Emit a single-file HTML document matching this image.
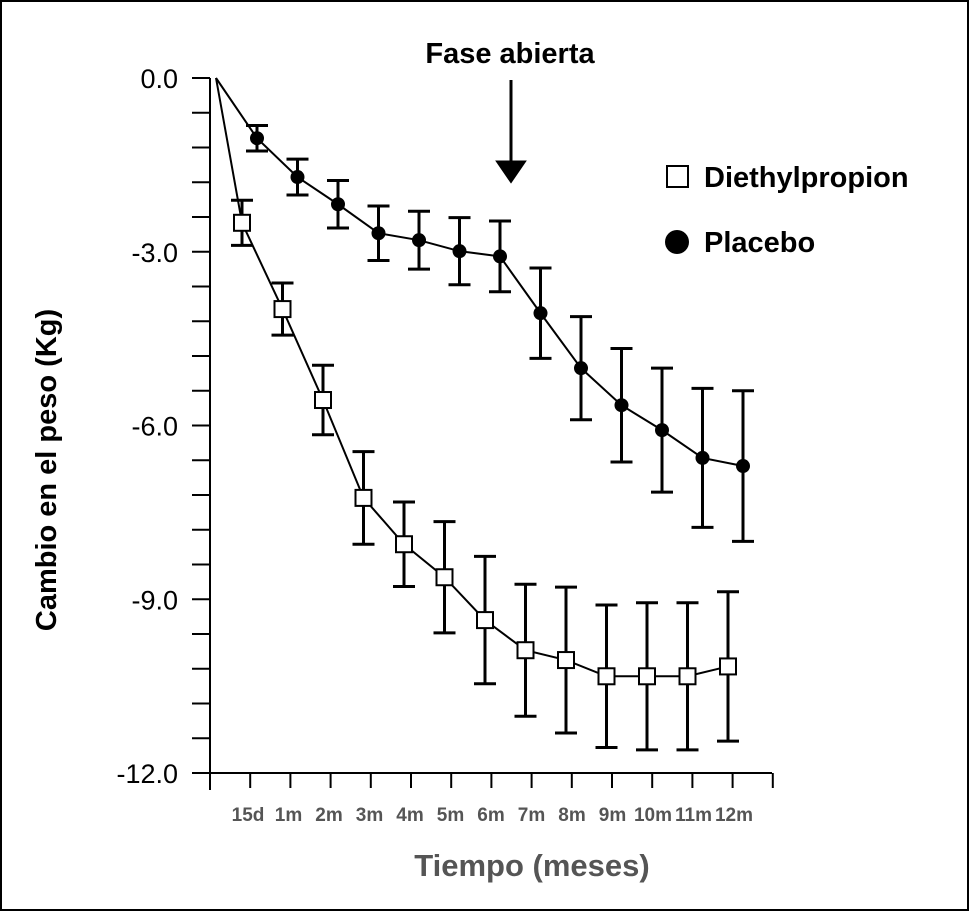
<!DOCTYPE html>
<html><head><meta charset="utf-8"><style>
html,body{margin:0;padding:0;background:#fff}
svg{display:block}
text{font-family:"Liberation Sans Narrow","Liberation Sans",sans-serif}
</style></head><body>
<svg id="c" width="969" height="911" viewBox="0 0 969 911">
<rect x="1" y="1" width="967" height="909" fill="#fff" stroke="#000" stroke-width="2"/>
<g id="g"></g>
</svg>
<script>
const categories=["15d","1m","2m","3m","4m","5m","6m","7m","8m","9m","10m","11m","12m"];
const placebo=[-1.04,-1.71,-2.18,-2.68,-2.8,-2.99,-3.08,-4.06,-5.01,-5.65,-6.08,-6.56,-6.7];
const placeboErr=[0.22,0.31,0.41,0.47,0.5,0.58,0.61,0.78,0.89,0.98,1.07,1.2,1.3];
const diethyl=[-2.5,-3.99,-5.56,-7.25,-8.05,-8.62,-9.36,-9.88,-10.05,-10.33,-10.33,-10.33,-10.16];
const diethylErr=[0.39,0.45,0.6,0.8,0.73,0.96,1.1,1.14,1.26,1.23,1.27,1.27,1.29];
const yTickLabels=["0.0","-3.0","-6.0","-9.0","-12.0"];
const yTickValues=[0,-3,-6,-9,-12];

const NS="http://www.w3.org/2000/svg";
const g=document.getElementById('g');
const y=v=>78+(v/-12)*695;
const x=i=>250+40.5*i;
function mk(t,a,p){const e=document.createElementNS(NS,t);for(const k in a)e.setAttribute(k,a[k]);(p||g).appendChild(e);return e;}

// axes
let e=mk('line',{x1:210,y1:78,x2:210,y2:790,stroke:'#000','stroke-width':2});


e=mk('line',{x1:210,y1:773,x2:772,y2:773,stroke:'#000','stroke-width':2});


for(let k=0;k<=20;k++){
  const v=-0.6*k;
  e=mk('line',{x1:192,y1:y(v),x2:210,y2:y(v),stroke:'#000','stroke-width':2});
  
  
}
yTickValues.forEach((v,i)=>{
  e=mk('text',{x:178,y:y(v)+10,'text-anchor':'end','font-size':27});
  e.textContent=yTickLabels[i];
  
  
});
for(let k=0;k<=14;k++){
  const tx=210+k*40.2;
  e=mk('line',{x1:tx,y1:773,x2:tx,y2:k==0?790:788,stroke:'#000','stroke-width':2});
  
  
}
categories.forEach((c,i)=>{
  e=mk('text',{x:x(i)-2,y:821,'text-anchor':'middle','font-size':19,'font-weight':'bold',fill:'#555'});
  e.textContent=c;
  
  
});
e=mk('text',{x:532,y:876,'text-anchor':'middle','font-size':31,'font-weight':'bold',fill:'#555'});
e.textContent='Tiempo (meses)';


e=mk('text',{x:0,y:0,'text-anchor':'middle','font-size':29,'font-weight':'bold',transform:'translate(56,470) rotate(-90)'});
e.textContent='Cambio en el peso (Kg)';



function series(vals,errs,off,name,marker){
  const pts=[[216,y(0)]].concat(vals.map((v,i)=>[x(i)+off,y(v)]));
  e=mk('polyline',{points:pts.map(p=>p.join(',')).join(' '),fill:'none',stroke:'#000','stroke-width':2});
  
  
  vals.forEach((v,i)=>{
    const cx=x(i)+off,t=y(v+errs[i]),b=y(v-errs[i]);
    e=mk('path',{d:`M${cx},${t}V${b}M${cx-11},${t}H${cx+11}M${cx-11},${b}H${cx+11}`,stroke:'#000','stroke-width':3,fill:'none'});
    
    
    if(marker=='sq'){
      e=mk('rect',{x:cx-8,y:y(v)-8,width:16,height:16,fill:'#fff',stroke:'#000','stroke-width':2});
    }else{
      e=mk('circle',{cx:cx,cy:y(v),r:7,fill:'#000'});
    }
    
    
  });
}
series(diethyl,diethylErr,-8,'diethylpropion','sq');
series(placebo,placeboErr,7,'placebo','ci');

e=mk('text',{x:510,y:63,'text-anchor':'middle','font-size':29,'font-weight':'bold'});
e.textContent='Fase abierta';


e=mk('path',{d:'M511,80V164M498,162L511,181L524,162Z',stroke:'#000','stroke-width':3,fill:'#000'});



e=mk('rect',{x:667,y:166,width:21,height:21,fill:'#fff',stroke:'#000','stroke-width':2});


e=mk('text',{x:704,y:187,'font-size':29,'font-weight':'bold'});
e.textContent='Diethylpropion';


e=mk('circle',{cx:677,cy:242,r:12,fill:'#000'});


e=mk('text',{x:704,y:252,'font-size':29,'font-weight':'bold'});
e.textContent='Placebo';


</script>
</body></html>
